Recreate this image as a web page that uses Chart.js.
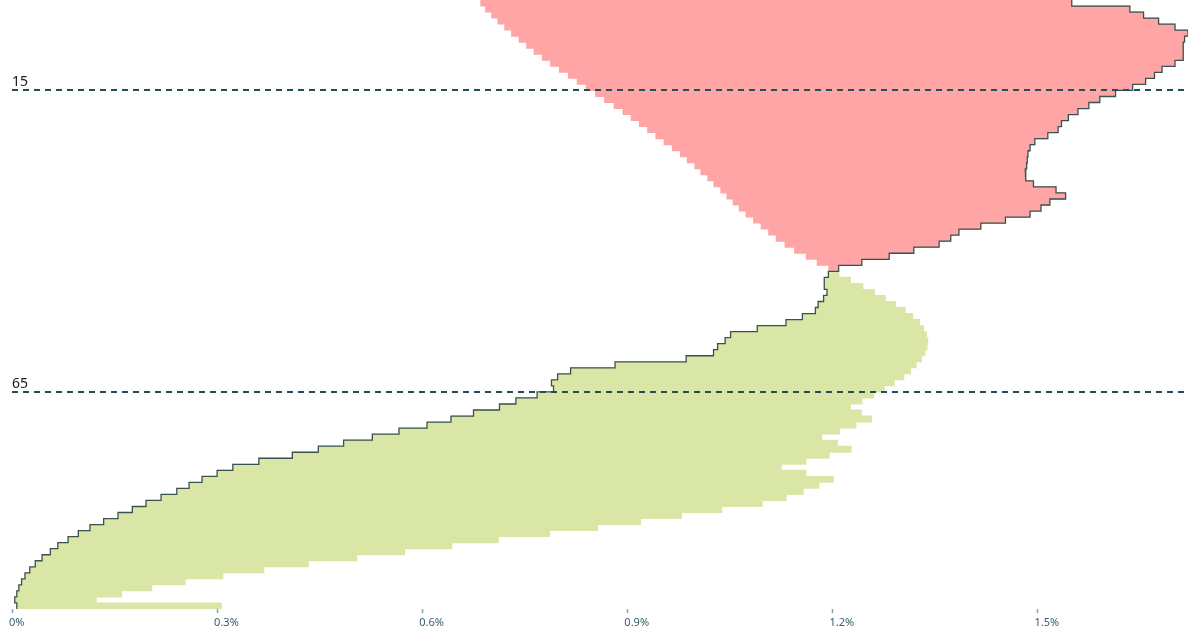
<!DOCTYPE html>
<html>
<head>
<meta charset="utf-8">
<script src="https://cdn.jsdelivr.net/npm/chart.js@4"></script>
<style>
  html, body { margin: 0; padding: 0; background: #ffffff; }
  #wrap { width: 1200px; height: 630px; }
</style>
</head>
<body>
<div id="wrap"><canvas id="chart"></canvas></div>
<script>
// one row per age, 0 at the top
const ages = Array.from({ length: 101 }, (_, i) => i);

// share of population (%) drawn as the stepped outline
const outlineShare = [
  1.550, 1.635, 1.655, 1.677, 1.701, 1.720, 1.715, 1.713, 1.713, 1.713,
  1.701, 1.682, 1.671, 1.658, 1.639, 1.614, 1.591, 1.575, 1.559, 1.545,
  1.535, 1.530, 1.515, 1.496, 1.489, 1.486, 1.485, 1.484, 1.482, 1.483,
  1.494, 1.527, 1.541, 1.518, 1.505, 1.489, 1.453, 1.417, 1.385, 1.373,
  1.356, 1.319, 1.283, 1.243, 1.209, 1.194, 1.188, 1.188, 1.192, 1.187,
  1.179, 1.175, 1.156, 1.132, 1.090, 1.051, 1.043, 1.032, 1.026, 0.986,
  0.882, 0.817, 0.798, 0.789, 0.792, 0.768, 0.737, 0.713, 0.675, 0.642,
  0.607, 0.566, 0.527, 0.485, 0.448, 0.410, 0.361, 0.323, 0.300, 0.278,
  0.259, 0.241, 0.218, 0.196, 0.176, 0.155, 0.134, 0.114, 0.097, 0.082,
  0.067, 0.056, 0.044, 0.034, 0.026, 0.019, 0.014, 0.010, 0.007, 0.004,
  0.007
];

// share of population (%) at the other end of each bar
const barEndShare = [
  0.685, 0.692, 0.701, 0.710, 0.720, 0.730, 0.741, 0.752, 0.763, 0.775,
  0.787, 0.800, 0.813, 0.826, 0.839, 0.853, 0.866, 0.880, 0.893, 0.905,
  0.917, 0.929, 0.941, 0.953, 0.965, 0.977, 0.987, 0.998, 1.007, 1.017,
  1.026, 1.036, 1.045, 1.054, 1.063, 1.073, 1.084, 1.095, 1.106, 1.117,
  1.130, 1.144, 1.161, 1.177, 1.194, 1.210, 1.227, 1.245, 1.262, 1.278,
  1.293, 1.307, 1.318, 1.328, 1.334, 1.338, 1.340, 1.339, 1.336, 1.331,
  1.323, 1.315, 1.305, 1.291, 1.276, 1.261, 1.244, 1.227, 1.243, 1.258,
  1.235, 1.211, 1.185, 1.208, 1.228, 1.196, 1.162, 1.126, 1.162, 1.202,
  1.181, 1.158, 1.133, 1.098, 1.039, 0.980, 0.920, 0.857, 0.787, 0.712,
  0.644, 0.575, 0.505, 0.434, 0.369, 0.309, 0.254, 0.205, 0.161, 0.124,
  0.307
];

const xTicks = [0, 0.3, 0.6, 0.9, 1.2, 1.5];
const ageMarks = [15, 65];

const RED = "#ffa5a5";
const GREEN = "#d9e6a6";

// bars span the row [age, age + 1] on the y scale
const bars = ages.map((a, i) => ({
  y: a + 0.5,
  x: [Math.min(outlineShare[i], barEndShare[i]), Math.max(outlineShare[i], barEndShare[i])],
}));
const barColors = ages.map((a, i) => (outlineShare[i] > barEndShare[i] ? RED : GREEN));

// outline: each value held across its whole row
const steps = [];
ages.forEach((a, i) => {
  steps.push({ x: outlineShare[i], y: a });
  steps.push({ x: outlineShare[i], y: a + 1 });
});

new Chart(document.getElementById("chart"), {
  data: {
    datasets: [
      {
        type: "line",
        data: steps,
        borderColor: "#3a524e",
        borderWidth: 1.3,
        pointRadius: 0,
        fill: false,
        tension: 0,
        order: 0,
      },
      {
        type: "bar",
        indexAxis: "y",
        data: bars,
        backgroundColor: barColors,
        borderWidth: 0,
        inflateAmount: 0,
        barPercentage: 1.15,
        categoryPercentage: 1,
        order: 1,
      },
    ],
  },
  options: {
    responsive: true,
    maintainAspectRatio: false,
    animation: false,
    layout: { padding: { left: 12, right: 12, top: 0, bottom: 0 } },
    plugins: {
      legend: { display: false },
      tooltip: { enabled: false },
    },
    scales: {
      x: {
        type: "linear",
        position: "bottom",
        offset: false,
        min: 0,
        max: 1.72,
        afterBuildTicks: (axis) => {
          axis.ticks = xTicks.map((v) => ({ value: v }));
        },
        // fixed axis box height so the plot ends at the same place as the original
        afterFit: (axis) => {
          axis.height = 21;
        },
        grid: {
          offset: false,
          drawOnChartArea: false,
          drawTicks: true,
          tickLength: 4,
          tickWidth: 1.5,
          tickColor: "#8aa2a8",
        },
        border: { display: false },
        ticks: {
          align: "start",
          labelOffset: -3,
          padding: 3,
          color: "#34606c",
          font: { family: "Noto Sans", size: 11 },
          callback: (v) => Math.round(v * 10) / 10 + "%",
        },
      },
      y: {
        type: "linear",
        reverse: true,
        offset: false,
        min: 0,
        max: 101,
        afterBuildTicks: (axis) => {
          axis.ticks = ageMarks.map((v) => ({ value: v }));
        },
        // labels sit inside the plot, so they should not push the plot down
        afterFit: (axis) => {
          axis.paddingTop = 0;
          axis.paddingBottom = 0;
        },
        grid: {
          offset: false,
          drawTicks: false,
          color: "#234e58",
          lineWidth: 2,
          z: 1,
        },
        border: { display: false, dash: [6, 5] },
        ticks: {
          mirror: true,
          padding: 0,
          labelOffset: -8,
          z: 1,
          color: "#1a1a1a",
          font: { family: "Noto Sans", size: 14 },
          callback: (v) => String(v),
        },
      },
    },
  },
});
</script>
</body>
</html>
